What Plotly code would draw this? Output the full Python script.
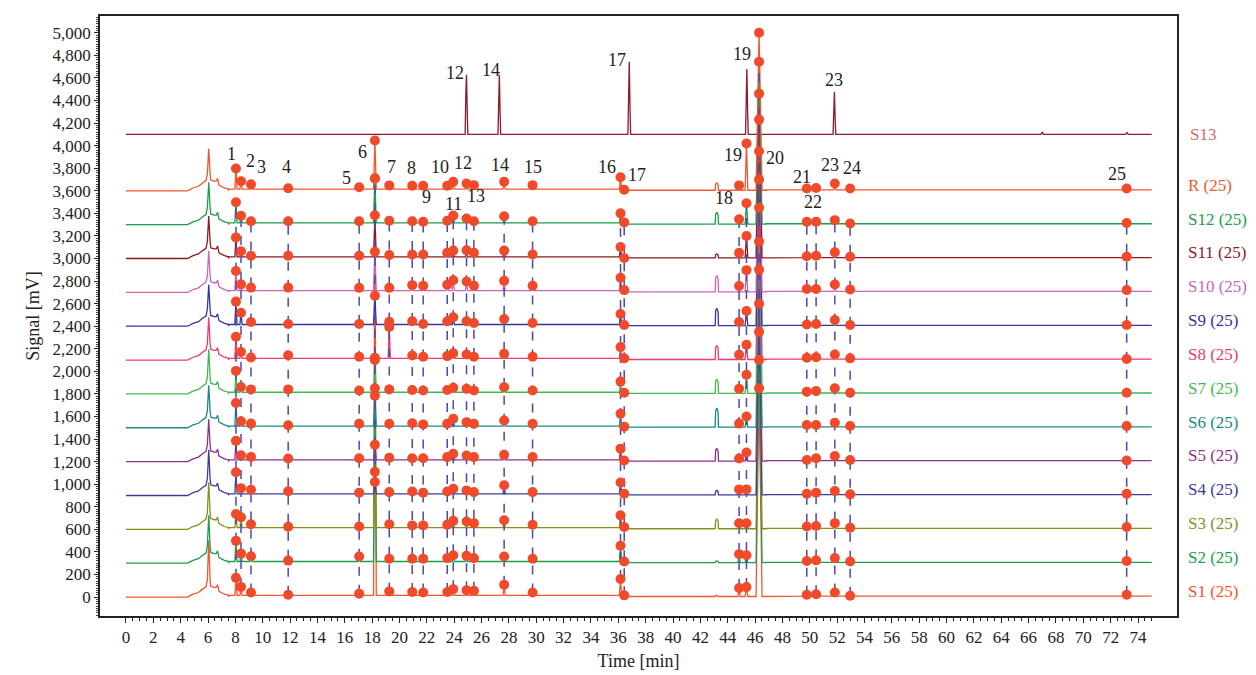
import plotly.graph_objects as go

# ---------------- data ----------------
SAMPLES = ["S1", "S2", "S3", "S4", "S5", "S6", "S7", "S8", "S9", "S10", "S11", "S12", "R"]
BASELINES = [0, 300, 600, 900, 1200, 1500, 1800, 2100, 2400, 2700, 3000, 3300, 3600]
SIDE_LABELS = ["S1 (25)", "S2 (25)", "S3 (25)", "S4 (25)", "S5 (25)", "S6 (25)", "S7 (25)",
               "S8 (25)", "S9 (25)", "S10 (25)", "S11 (25)", "S12 (25)", "R (25)"]
COLORS = ["#F4562E", "#1B9E4B", "#8C8C1E", "#3C3C96", "#8E2E8E", "#178A8A", "#3DBB4E",
          "#F2386E", "#3434A0", "#D063B5", "#8E1A1E", "#1B9E4B", "#F4562E"]

# retention times (min) of the 25 common peaks
PEAK_T = [8.04, 8.41, 9.14, 11.86, 17.05, 18.20, 19.25, 20.93, 21.73, 23.49, 23.93, 24.90, 25.44,
          27.65, 29.73, 36.16, 36.43, 44.83, 45.37, 46.29, 49.78, 50.46, 51.83, 52.95, 73.17]

# peak apex above each trace's baseline (mV), one row per sample
H_S1 = [170, 90, 40, 20, 30, 3710, 50, 45, 40, 45, 70, 60, 55, 110, 40, 160, 15, 80, 88, 1850, 20, 25, 40, 12, 20]
H_S2 = [198, 85, 62, 23, 60, 1550, 40, 40, 40, 45, 70, 65, 45, 60, 40, 154, 15, 80, 71, 1800, 20, 25, 45, 15, 20]
H_S3 = [136, 107, 45, 23, 25, 510, 45, 35, 35, 40, 75, 70, 55, 80, 40, 124, 20, 54, 54, 1750, 25, 30, 55, 15, 20]
H_S4 = [206, 65, 51, 37, 25, 120, 30, 35, 25, 35, 60, 45, 30, 90, 30, 115, 15, 54, 54, 1700, 15, 25, 40, 10, 15]
H_S5 = [184, 57, 42, 28, 30, 150, 35, 30, 30, 40, 70, 55, 40, 60, 40, 115, 10, 28, 81, 1700, 15, 30, 50, 15, 10]
H_S6 = [220, 57, 37, 23, 35, 285, 35, 40, 30, 35, 80, 50, 35, 65, 35, 124, 10, 37, 100, 1650, 25, 25, 45, 15, 15]
H_S7 = [204, 62, 40, 40, 30, 300, 40, 35, 30, 35, 55, 45, 30, 60, 30, 109, 10, 46, 170, 1650, 20, 25, 50, 10, 10]
H_S8 = [206, 71, 23, 42, 30, 20, 294, 40, 30, 35, 60, 50, 30, 55, 30, 115, 15, 47, 135, 1600, 20, 25, 50, 15, 10]
H_S9 = [218, 119, 37, 20, 20, 270, 40, 44, 20, 44, 79, 44, 29, 64, 29, 108, 10, 38, 135, 1550, 15, 20, 55, 10, 10]
H_S10 = [190, 71, 42, 42, 40, 360, 40, 64, 58, 67, 108, 96, 58, 102, 58, 130, 20, 56, 197, 1531, 30, 30, 70, 25, 20]
H_S11 = [187, 65, 25, 25, 25, 384, 30, 35, 35, 50, 70, 73, 50, 70, 35, 102, 5, 50, 200, 1461, 20, 25, 55, 15, 15]
H_S12 = [198, 79, 30, 30, 30, 411, 35, 30, 25, 35, 80, 55, 30, 75, 30, 100, 20, 48, 190, 1444, 25, 25, 40, 10, 15]
H_R = [198, 85, 57, 22, 31, 446, 48, 45, 45, 45, 80, 65, 50, 80, 50, 120, 10, 48, 420, 1400, 20, 25, 65, 20, 20]
PEAK_H = [H_S1, H_S2, H_S3, H_S4, H_S5, H_S6, H_S7, H_S8, H_S9, H_S10, H_S11, H_S12, H_R]

# solvent front region (shared profile, mV above baseline) and its main peak per sample
SOLV_T = [4.5, 4.9, 5.3, 5.6, 5.85, 5.95, 6.05, 6.15, 6.2, 6.45, 6.6, 6.7, 6.8, 7.2, 7.5]
SOLV_V = [0, 25, 40, 70, 90, 150, None, 150, 95, 85, 85, 110, 50, 25, 15]
SOLV_PEAK = [500, 424, 418, 404, 376, 376, 396, 380, 368, 368, 376, 376, 374]

# unmarked peak near 43.2 min
EXTRA_T = 43.2
EXTRA_H = [15, 20, 90, 45, 118, 175, 130, 130, 160, 150, 40, 110, 70]

# baseline drift (piecewise constant)
DRIFT_T = [0, 7.5, 36.3, 46.8]
DRIFT_V = [0, 15, 5, 8]
END_T = 75.0

# reference standard trace S13 (no markers)
S13_BASE = 4100
S13_T = [24.9, 27.3, 36.8, 45.4, 51.8, 67.0, 73.2]
S13_H = [529, 529, 644, 580, 378, 20, 15]

# axis ticks
X_TICKS = list(range(0, 75, 2))
X_MINOR = [i * 0.5 for i in range(0, 151)]

# peak number labels (text, time, signal)
LABELS = [("1", 7.75, 3930), ("2", 9.07, 3860), ("3", 9.94, 3807), ("4", 11.70, 3807),
          ("5", 16.16, 3710), ("6", 17.33, 3948), ("7", 19.45, 3807), ("8", 20.91, 3798),
          ("9", 21.94, 3542), ("10", 22.96, 3807), ("11", 23.98, 3480), ("12", 24.64, 3842),
          ("13", 25.59, 3551), ("14", 27.35, 3833), ("15", 29.76, 3807), ("16", 35.17, 3807),
          ("17", 37.36, 3736), ("18", 43.72, 3533), ("19", 44.38, 3913), ("20", 47.46, 3895),
          ("21", 49.43, 3718), ("22", 50.23, 3498), ("23", 51.48, 3833), ("24", 53.09, 3798),
          ("25", 72.46, 3745),
          ("12", 24.06, 4646), ("14", 26.69, 4672), ("17", 35.90, 4761), ("19", 45.04, 4814),
          ("23", 51.77, 4584)]

# ---------------- figure ----------------
FONT = "Liberation Serif, Times New Roman, DejaVu Serif, serif"
MARKER_COLOR = "#F04A2A"
DASH_COLOR = "#4848B0"


def drift(t):
    v = 0
    for tt, vv in zip(DRIFT_T, DRIFT_V):
        if t >= tt:
            v = vv
    return v


def build_trace(base, heights, solv_peak, extra_h):
    pts = [(0.0, base)]
    for t, v in zip(SOLV_T, SOLV_V):
        pts.append((t, base + (solv_peak if v is None else v)))
    for i in range(1, len(DRIFT_T)):
        pts.append((DRIFT_T[i], base + DRIFT_V[i - 1]))
        pts.append((DRIFT_T[i], base + DRIFT_V[i]))
    feats = [(t, h, 0.08) for t, h in zip(PEAK_T, heights)]
    feats.append((EXTRA_T, extra_h, 0.12))
    for k, (t, h, w) in enumerate(feats):
        if k == 5 or k == 18:
            w = 0.1
        if k == 19:
            w = 0.22
        if k == 25:
            pts += [(t - w, base + drift(t - w)), (t - w * 0.7, base + h * 0.85), (t, base + h),
                    (t + w * 0.8, base + h * 0.8), (t + w, base + drift(t + w))]
            continue
        pts.append((t - w, base + drift(t - w)))
        pts.append((t, base + h))
        pts.append((t + w, base + drift(t + w)))
    pts.append((END_T, base + drift(END_T)))
    pts.sort(key=lambda p: p[0])
    return [p[0] for p in pts], [p[1] for p in pts]


fig = go.Figure()

# S13
xs, ys = [0.0], [S13_BASE]
for t, h in zip(S13_T, S13_H):
    xs += [t - 0.1, t - 0.05, t, t + 0.06, t + 0.1]
    ys += [S13_BASE, S13_BASE + h * 0.7, S13_BASE + h, S13_BASE + h * 0.3, S13_BASE]
xs.append(END_T)
ys.append(S13_BASE)
fig.add_trace(go.Scatter(x=xs, y=ys, mode="lines", line=dict(color="#8E1A2A", width=1.3),
                         showlegend=False, hoverinfo="skip"))

# sample traces
for name, base, col, hts, sp, eh in zip(SAMPLES, BASELINES, COLORS, PEAK_H, SOLV_PEAK, EXTRA_H):
    x, y = build_trace(base, hts, sp, eh)
    fig.add_trace(go.Scatter(x=x, y=y, mode="lines", line=dict(color=col, width=1.3),
                             name=name, showlegend=False, hoverinfo="skip"))

# dashed connection lines across S1..S12
dx, dy = [], []
for j, t in enumerate(PEAK_T):
    vals = [BASELINES[i] + PEAK_H[i][j] for i in range(12)]
    dx += [t, t, None]
    dy += [min(vals), max(vals), None]
fig.add_trace(go.Scatter(x=dx, y=dy, mode="lines",
                         line=dict(color=DASH_COLOR, width=1.5, dash="dash"),
                         showlegend=False, hoverinfo="skip"))

# peak markers
mx, my = [], []
for base, hts in zip(BASELINES, PEAK_H):
    for t, h in zip(PEAK_T, hts):
        mx.append(t)
        my.append(base + h)
fig.add_trace(go.Scatter(x=mx, y=my, mode="markers",
                         marker=dict(color=MARKER_COLOR, size=10, line=dict(width=0)),
                         showlegend=False, hoverinfo="skip"))

annotations = []
for txt, t, v in LABELS:
    annotations.append(dict(x=t, y=v, text=txt, showarrow=False, xanchor="center", yanchor="middle",
                            font=dict(family=FONT, size=18, color="#222222")))
for lab, base, col in zip(SIDE_LABELS, BASELINES, COLORS):
    annotations.append(dict(x=1.0, xref="paper", y=base + 50, yref="y", text=lab, showarrow=False,
                            xanchor="left", yanchor="middle", xshift=9,
                            font=dict(family=FONT, size=17, color=col)))
annotations.append(dict(x=1.0, xref="paper", y=S13_BASE, yref="y", text="S13", showarrow=False,
                        xanchor="left", yanchor="middle", xshift=11,
                        font=dict(family=FONT, size=17, color="#D66A64")))

# page body has an 8px margin: size the figure so the plot box lands where the reference has it
fig.update_layout(
    width=1248, height=667,
    margin=dict(l=92, r=79, t=6, b=59),
    plot_bgcolor="white", paper_bgcolor="white",
    font=dict(family=FONT, size=16, color="#222222"),
    annotations=annotations,
    showlegend=False,
)
fig.update_xaxes(
    range=[-1.9, 76.85], tickmode="array", tickvals=X_TICKS,
    showgrid=False, zeroline=False, showline=True, linecolor="#222222", linewidth=1.5, mirror=True,
    ticks="outside", ticklen=5, tickcolor="#222222",
    minor=dict(tickmode="array", tickvals=X_MINOR, ticks="outside", ticklen=3, tickcolor="#222222"),
    tickfont=dict(family=FONT, size=17),
    title=dict(text="Time [min]", font=dict(family=FONT, size=18), standoff=8),
)
fig.update_yaxes(
    range=[-168, 5149], tickmode="linear", tick0=0, dtick=200, tickformat=",d",
    showgrid=False, zeroline=False, showline=True, linecolor="#222222", linewidth=1.5, mirror=True,
    ticks="outside", ticklen=4, tickcolor="#222222",
    minor=dict(dtick=20, ticks="outside", ticklen=2, tickcolor="#444444"),
    tickfont=dict(family=FONT, size=17),
    title=dict(text="Signal [mV]", font=dict(family=FONT, size=18), standoff=8),
)

fig.write_html("out.html")
